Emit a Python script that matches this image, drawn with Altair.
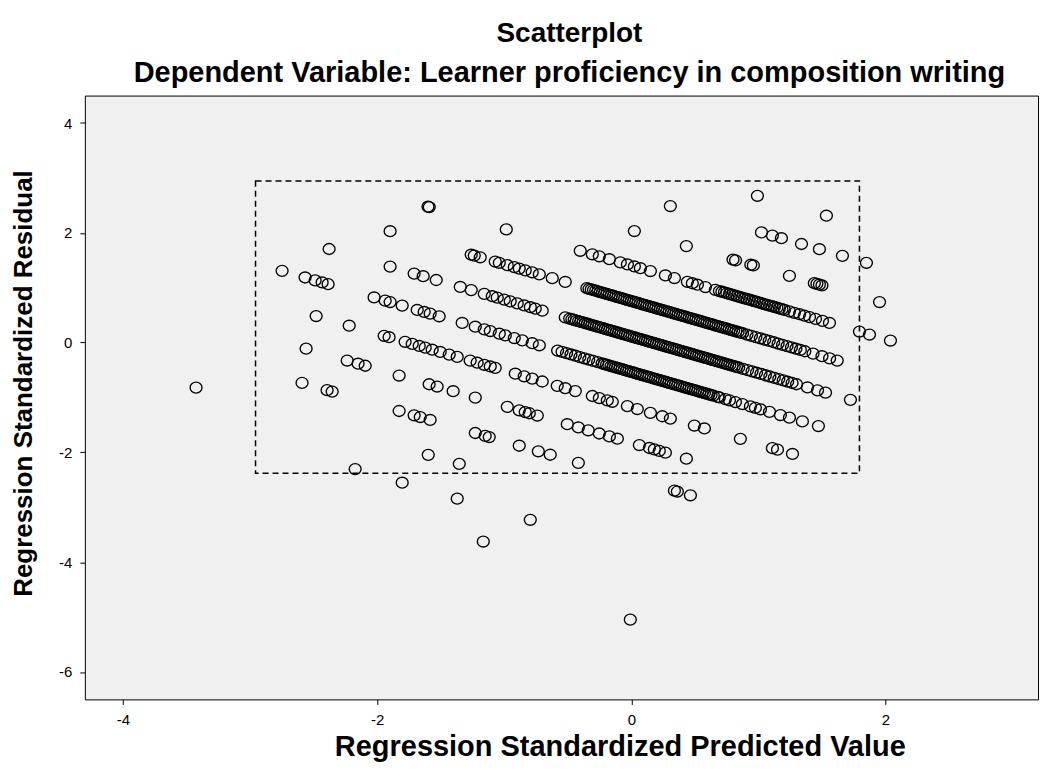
import altair as alt
import pandas as pd

# Each list holds points of one discrete outcome level (a diagonal band)
band_m2_x = [0.992, 1.535]
band_m2_y = [2.674, 2.311]

band_m1_x = [0.307, 1.024, 1.110, 1.181, 1.339, 1.480, 1.661, 1.850]
band_m1_y = [2.487, 2.007, 1.949, 1.902, 1.796, 1.701, 1.580, 1.453]

band_0_x = [0.024, 0.433, 0.80, 0.82, 0.94, 0.96, 1.244, 1.44, 1.46, 1.48, 1.50, 1.953]
band_0_y = [2.032, 1.758, 1.512, 1.499, 1.418, 1.405, 1.215, 1.083, 1.070, 1.056, 1.043, 0.739]

band_1_x = [-1.60, -1.59, -0.984, -0.402, -0.307, -0.252, -0.173, -0.087, -0.031, 0.024,
            0.071, 0.150, 0.268, 0.339, 0.441, 0.480, 0.520, 0.583, 0.661, 0.693,
            0.732, 0.772, 0.811, 0.850, 0.890, 0.929, 0.969, 1.008, 1.047, 1.087,
            1.126, 1.165, 1.205, 1.244, 1.283, 1.323, 1.362, 1.402, 1.449, 1.504,
            1.559, 1.795, 1.874, 2.039]
band_1_y = [2.475, 2.468, 2.062, 1.672, 1.609, 1.572, 1.519, 1.461, 1.424, 1.387,
            1.355, 1.303, 1.223, 1.176, 1.108, 1.081, 1.055, 1.012, 0.960, 0.939,
            0.913, 0.886, 0.860, 0.834, 0.807, 0.781, 0.754, 0.728, 0.702, 0.675,
            0.649, 0.622, 0.596, 0.570, 0.543, 0.517, 0.490, 0.464, 0.432, 0.395,
            0.358, 0.200, 0.147, 0.037]
band_1b_x = [0.7125, 0.752, 0.7915, 0.8305, 0.870, 0.9095, 0.949, 0.9885, 1.0275, 1.067,
             1.1065, 1.1455, 1.185]
band_1b_y = [0.926, 0.899, 0.873, 0.847, 0.820, 0.794, 0.767, 0.741, 0.715, 0.688,
             0.662, 0.636, 0.609]

band_2_x = [-1.898, -1.260, -1.236, -1.189, -1.071, -1.039, -0.976, -0.921, -0.882, -0.835,
            -0.780, -0.724, -0.622, -0.520,
            -0.35, -0.315, -0.28, -0.245, -0.21, -0.175, -0.14, -0.105, -0.07, -0.035,
            0.0, 0.035, 0.07, 0.105, 0.14, 0.175, 0.21, 0.245, 0.28, 0.315,
            0.35, 0.385, 0.42, 0.455, 0.49, 0.525, 0.56, 0.595, 0.63, 0.665,
            0.70, 0.735, 0.77, 0.805, 0.84, 0.875, 0.91, 0.945, 0.98, 1.015,
            1.05, 1.085, 1.12, 1.155, 1.19, 1.225, 1.26, 1.295, 1.33, 1.365,
            1.43, 1.50, 1.56, 1.62]
band_2_y = [2.029, 1.601, 1.585, 1.554, 1.475, 1.453, 1.411, 1.374, 1.348, 1.316,
            1.280, 1.242, 1.174, 1.105,
            0.992, 0.968, 0.945, 0.921, 0.898, 0.874, 0.851, 0.827, 0.804, 0.780,
            0.757, 0.734, 0.710, 0.687, 0.663, 0.640, 0.616, 0.593, 0.569, 0.546,
            0.523, 0.499, 0.476, 0.452, 0.429, 0.405, 0.382, 0.358, 0.335, 0.311,
            0.288, 0.265, 0.241, 0.218, 0.194, 0.171, 0.147, 0.124, 0.100, 0.077,
            0.054, 0.030, 0.007, -0.017, -0.040, -0.064, -0.087, -0.111, -0.134, -0.158,
            -0.201, -0.248, -0.288, -0.328]
band_2b_x = [-0.3325, -0.2975, -0.2625, -0.2275, -0.1925, -0.1575, -0.1225, -0.0875, -0.0525, -0.0175,
             0.0175, 0.0525, 0.0875, 0.1225, 0.1575, 0.1925, 0.2275, 0.2625, 0.2975, 0.3325,
             0.3675, 0.4025, 0.4375, 0.4725, 0.5075, 0.5425, 0.5775, 0.6125, 0.6475, 0.6825,
             0.7175, 0.7525, 0.7875, 0.8225, 0.8575]
band_2b_y = [0.980, 0.956, 0.933, 0.909, 0.886, 0.863, 0.839, 0.816, 0.792, 0.769,
             0.745, 0.722, 0.698, 0.675, 0.651, 0.628, 0.605, 0.581, 0.558, 0.534,
             0.511, 0.487, 0.464, 0.440, 0.417, 0.394, 0.370, 0.347, 0.323, 0.300,
             0.276, 0.253, 0.229, 0.206, 0.182]

band_3_x = [-2.378, -1.898, -1.709, -1.638, -1.535, -1.346, -1.260, -1.157, -1.094, -1.055,
            -1.000, -0.953, -0.898, -0.843, -0.795, -0.756, -0.701,
            -0.52, -0.485, -0.45, -0.415, -0.38, -0.345, -0.31, -0.275, -0.24, -0.205,
            -0.17, -0.135, -0.10, -0.065, -0.03, 0.005, 0.04, 0.075, 0.11, 0.145,
            0.18, 0.215, 0.25, 0.285, 0.32, 0.355, 0.39, 0.425, 0.46, 0.495,
            0.53, 0.565, 0.60, 0.635, 0.67, 0.705, 0.74, 0.775, 0.81, 0.845,
            0.88, 0.915, 0.95, 0.985, 1.02, 1.055, 1.09, 1.125, 1.16, 1.195,
            1.23, 1.265, 1.30, 1.386, 1.465, 1.528, 1.724]
band_3_y = [1.705, 1.384, 1.257, 1.209, 1.140, 1.014, 0.956, 0.887, 0.845, 0.819,
            0.782, 0.751, 0.714, 0.677, 0.645, 0.619, 0.582,
            0.460, 0.437, 0.414, 0.390, 0.367, 0.343, 0.320, 0.296, 0.273, 0.249,
            0.226, 0.202, 0.179, 0.156, 0.132, 0.109, 0.085, 0.062, 0.038, 0.015,
            -0.009, -0.032, -0.056, -0.079, -0.102, -0.126, -0.149, -0.173, -0.196, -0.220,
            -0.243, -0.267, -0.290, -0.313, -0.337, -0.360, -0.384, -0.407, -0.431, -0.454,
            -0.478, -0.501, -0.525, -0.548, -0.571, -0.595, -0.618, -0.642, -0.665, -0.689,
            -0.712, -0.736, -0.759, -0.817, -0.870, -0.912, -1.043]
band_3b_x = [-0.4675, -0.4325, -0.3975, -0.3625, -0.3275, -0.2925, -0.2575, -0.2225, -0.1875, -0.1525,
             -0.1175, -0.0825, -0.0475, -0.0125, 0.0225, 0.0575, 0.0925, 0.1275, 0.1625, 0.1975,
             0.2325, 0.2675, 0.3025, 0.3375, 0.3725, 0.4075, 0.4425, 0.4775, 0.5125, 0.5475,
             0.5825, 0.6175, 0.6525, 0.6875, 0.7225, 0.7575, 0.7925, 0.8275]
band_3b_y = [0.425, 0.402, 0.378, 0.355, 0.331, 0.308, 0.285, 0.261, 0.238, 0.214,
             0.191, 0.167, 0.144, 0.120, 0.097, 0.073, 0.050, 0.027, 0.003, -0.020,
             -0.044, -0.067, -0.091, -0.114, -0.138, -0.161, -0.184, -0.208, -0.231, -0.255,
             -0.278, -0.302, -0.325, -0.349, -0.372, -0.396, -0.419, -0.442]

band_4_x = [-2.748, -2.567, -2.488, -2.433, -2.386, -2.024, -1.937, -1.898, -1.803, -1.685,
            -1.630, -1.583, -1.512, -1.331, -1.228, -1.157, -1.110, -1.039, -0.992, -0.921,
            -0.858, -0.780, -0.724,
            -0.58, -0.545, -0.51, -0.475, -0.44, -0.405, -0.37, -0.335, -0.30, -0.265,
            -0.23, -0.195, -0.16, -0.125, -0.09, -0.055, -0.02, 0.015, 0.05, 0.085,
            0.12, 0.155, 0.19, 0.225, 0.26, 0.295, 0.33, 0.365, 0.40, 0.435,
            0.47, 0.505, 0.54, 0.575, 0.61, 0.645, 0.68,
            0.693, 0.740, 0.772, 0.819, 0.874, 0.937, 0.976, 1.016, 1.087, 1.173,
            1.244, 1.346, 1.472]
band_4_y = [1.307, 1.186, 1.133, 1.096, 1.065, 0.822, 0.764, 0.738, 0.674, 0.595,
            0.558, 0.527, 0.479, 0.358, 0.289, 0.241, 0.210, 0.162, 0.131, 0.083,
            0.041, -0.011, -0.049,
            -0.145, -0.169, -0.192, -0.216, -0.239, -0.263, -0.286, -0.310, -0.333, -0.356,
            -0.380, -0.403, -0.427, -0.450, -0.474, -0.497, -0.521, -0.544, -0.568, -0.591,
            -0.614, -0.638, -0.661, -0.685, -0.708, -0.732, -0.755, -0.779, -0.802, -0.825,
            -0.849, -0.872, -0.896, -0.919, -0.943, -0.966, -0.990,
            -0.998, -1.030, -1.051, -1.083, -1.120, -1.162, -1.188, -1.215, -1.262, -1.320,
            -1.367, -1.436, -1.520]
band_4b_x = [-0.2125, -0.1775, -0.1425, -0.1075, -0.0725, -0.0375, -0.0025, 0.0325, 0.0675, 0.1025,
             0.1375, 0.1725, 0.2075, 0.2425, 0.2775, 0.3125, 0.3475, 0.3825, 0.4175, 0.4525,
             0.4875, 0.5225, 0.5575, 0.5925, 0.6275]
band_4b_y = [-0.392, -0.415, -0.439, -0.462, -0.485, -0.509, -0.532, -0.556, -0.579, -0.603,
             -0.626, -0.650, -0.673, -0.696, -0.720, -0.743, -0.767, -0.790, -0.814, -0.837,
             -0.861, -0.884, -0.908, -0.931, -0.954]

band_5_x = [-2.480, -2.220, -1.945, -1.906, -1.780, -1.724, -1.669, -1.622, -1.567, -1.504,
            -1.433, -1.370, -1.268, -1.213, -1.157, -1.110, -1.071, -0.913, -0.843, -0.780,
            -0.701, -0.583, -0.520, -0.441, -0.307, -0.252, -0.189, -0.150, -0.031, 0.047,
            0.150, 0.244, 0.307, 0.496, 0.575, 0.858, 1.110, 1.150, 1.268]
band_5_y = [0.483, 0.308, 0.124, 0.098, 0.014, -0.024, -0.061, -0.092, -0.129, -0.171,
            -0.219, -0.261, -0.329, -0.366, -0.404, -0.435, -0.461, -0.567, -0.614, -0.656,
            -0.709, -0.788, -0.831, -0.884, -0.973, -1.010, -1.052, -1.079, -1.158, -1.211,
            -1.280, -1.342, -1.385, -1.511, -1.564, -1.754, -1.923, -1.950, -2.029]

band_6_x = [-2.559, -2.236, -2.150, -2.094, -1.827, -1.591, -1.528, -1.402, -1.228, -0.976,
            -0.882, -0.835, -0.803, -0.740, -0.504, -0.417, -0.339, -0.252, -0.173, -0.110,
            0.063, 0.142, 0.181, 0.220, 0.268, 0.433]
band_6_y = [-0.110, -0.327, -0.384, -0.422, -0.601, -0.759, -0.801, -0.886, -1.002, -1.171,
            -1.234, -1.266, -1.287, -1.329, -1.487, -1.546, -1.598, -1.656, -1.709, -1.751,
            -1.867, -1.920, -1.946, -1.972, -2.005, -2.115]

band_7_x = [-2.591, -2.394, -2.354, -1.827, -1.709, -1.661, -1.583, -1.228, -1.150, -1.118,
            -0.882, -0.732, -0.638, -0.417, 0.339, 0.362, 0.465]
band_7_y = [-0.734, -0.866, -0.893, -1.246, -1.325, -1.357, -1.409, -1.647, -1.700, -1.721,
            -1.879, -1.980, -2.043, -2.191, -2.697, -2.713, -2.782]

band_low_x = [-3.425, -1.598, -1.354, -2.173, -1.803, -1.370, -0.795, -1.165, -0.008]
band_low_y = [-0.821, -2.045, -2.209, -2.305, -2.553, -2.843, -3.228, -3.625, -5.047]

# dashed box (predicted from, to; residual from, to)
box_x = [-2.957, 1.795]
box_y = [-2.38, 2.945]

x_ticks = [-4, -2, 0, 2]
y_ticks = [4, 2, 0, -2, -4, -6]
x_domain = [-4.3, 3.2]
y_domain = [-6.5, 4.5]

bands = [
    (band_m2_x, band_m2_y), (band_m1_x, band_m1_y), (band_0_x, band_0_y),
    (band_1_x, band_1_y), (band_1b_x, band_1b_y),
    (band_2_x, band_2_y), (band_2b_x, band_2b_y),
    (band_3_x, band_3_y), (band_3b_x, band_3b_y),
    (band_4_x, band_4_y), (band_4b_x, band_4b_y),
    (band_5_x, band_5_y), (band_6_x, band_6_y),
    (band_7_x, band_7_y), (band_low_x, band_low_y),
]
rows = []
for bx, by in bands:
    for a, b in zip(bx, by):
        rows.append({"pred": a, "resid": b})
df = pd.DataFrame(rows)

box_df = pd.DataFrame([{"x1": box_x[0], "x2": box_x[1], "y1": box_y[0], "y2": box_y[1]}])

FONT = "Liberation Sans"
ELLIPSE = "M -1.09 0 A 1.09 1 0 1 1 1.09 0 A 1.09 1 0 1 1 -1.09 0 Z"

xscale = alt.Scale(domain=x_domain, nice=False, zero=False)
yscale = alt.Scale(domain=y_domain, nice=False, zero=False)

points = alt.Chart(df).mark_point(
    shape=ELLIPSE, filled=False, size=120, stroke="#000000", strokeWidth=1.35, opacity=1
).encode(
    x=alt.X("pred:Q", scale=xscale,
            axis=alt.Axis(values=x_ticks, title="Regression Standardized Predicted Value",
                          labelExpr="'' + datum.value", titleX=536)),
    y=alt.Y("resid:Q", scale=yscale,
            axis=alt.Axis(values=y_ticks, title="Regression Standardized Residual",
                          labelExpr="'' + datum.value", titleY=288)),
)

box = alt.Chart(box_df).mark_rect(
    fillOpacity=0, stroke="#000000", strokeWidth=1.5, strokeDash=[6, 4]
).encode(
    x=alt.X("x1:Q", scale=xscale), x2="x2:Q",
    y=alt.Y("y1:Q", scale=yscale), y2="y2:Q",
)

chart = alt.layer(box, points).properties(
    width=955, height=605,
    title=alt.TitleParams(
        text="Scatterplot",
        subtitle="Dependent Variable: Learner proficiency in composition writing",
        font=FONT, fontSize=28, fontWeight="bold", color="#000000",
        subtitleFont=FONT, subtitleFontSize=29, subtitleFontWeight="bold",
        subtitleColor="#000000", subtitlePadding=11, offset=8, anchor="middle", dx=8,
    ),
    autosize=alt.AutoSizeParams(type="none"),
    padding={"left": 77, "top": 87, "right": 5, "bottom": 70},
).configure_view(
    fill="#F0F0F0", stroke="#000000", strokeWidth=1
).configure_axis(
    grid=False, domain=False, ticks=True, tickSize=5, tickColor="#000000",
    labelFont=FONT, labelFontSize=15, labelColor="#000000", labelPadding=8,
    titleFont=FONT, titleFontWeight="bold", titleColor="#000000",
).configure_axisX(titlePadding=5, titleFontSize=29).configure_axisY(titlePadding=22, titleFontSize=26)

chart.save("out.html", embed_options={"renderer": "svg", "actions": False})
